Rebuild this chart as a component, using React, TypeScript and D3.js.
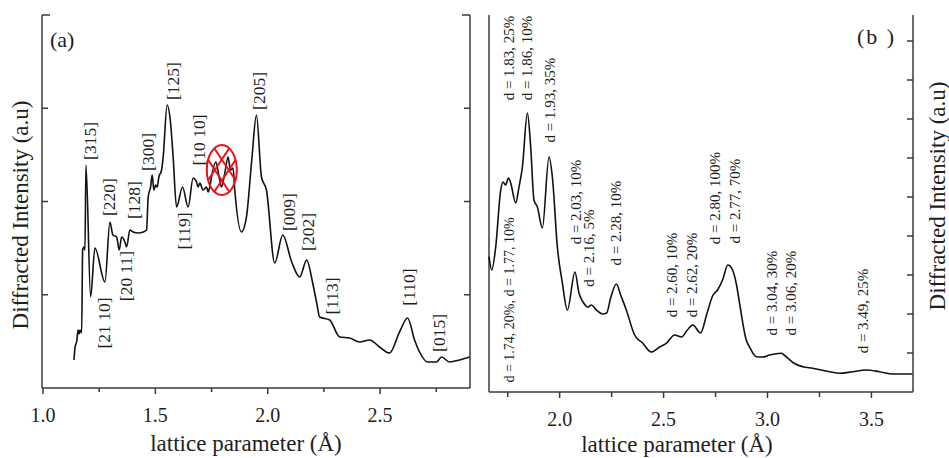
import React from "react";
import * as d3 from "d3";

const W = 949;
const H = 458;

// Panel (a) spectrum: lattice parameter (Å) vs intensity (a.u.)
const aD = [1.1378, 1.1422, 1.1511, 1.1556, 1.16, 1.1644, 1.172, 1.1764, 1.1822, 1.1867, 1.1911, 1.212, 1.2311, 1.2756, 1.2978, 1.3111, 1.3276, 1.3391, 1.3498, 1.3644, 1.372, 1.3867, 1.4013, 1.4236, 1.4458, 1.4609, 1.468, 1.4787, 1.4858, 1.4933, 1.5009, 1.508, 1.5156, 1.5276, 1.5347, 1.5524, 1.5676, 1.5791, 1.5942, 1.6209, 1.6458, 1.668, 1.6831, 1.6902, 1.6978, 1.7124, 1.7276, 1.7347, 1.7422, 1.7498, 1.7689, 1.7836, 1.7942, 1.8089, 1.8236, 1.8342, 1.8458, 1.8533, 1.8831, 1.9053, 1.9289, 1.9498, 1.972, 1.9942, 2.0311, 2.0667, 2.1067, 2.1422, 2.1733, 2.2, 2.2178, 2.2311, 2.2756, 2.32, 2.3644, 2.4089, 2.4533, 2.4978, 2.5422, 2.5867, 2.6222, 2.6533, 2.6756, 2.7111, 2.7511, 2.7733, 2.8089, 2.8533, 2.8978];
const aI = [0.3, 0.429, 0.515, 0.622, 0.579, 0.622, 0.59, 1.48, 1.512, 1.48, 2.391, 0.976, 1.501, 1.137, 1.78, 1.641, 1.619, 1.48, 1.619, 1.566, 1.512, 1.694, 1.673, 1.662, 1.673, 1.694, 2.048, 2.155, 2.284, 2.123, 2.177, 2.155, 2.263, 2.338, 2.477, 3.035, 2.842, 2.477, 1.941, 2.155, 1.941, 2.252, 2.209, 2.155, 2.198, 2.123, 2.155, 2.102, 2.155, 2.263, 2.424, 2.263, 2.155, 2.305, 2.477, 2.338, 2.359, 2.123, 1.673, 1.834, 2.445, 2.928, 2.263, 2.123, 1.34, 1.641, 1.351, 1.19, 1.373, 1.126, 0.912, 0.761, 0.729, 0.547, 0.536, 0.493, 0.515, 0.44, 0.375, 0.601, 0.751, 0.515, 0.386, 0.279, 0.279, 0.332, 0.279, 0.3, 0.332];

// Panel (b) spectrum
const bD = [1.6601, 1.6731, 1.6923, 1.7163, 1.7274, 1.7404, 1.7534, 1.7644, 1.7885, 1.8043, 1.8207, 1.8447, 1.8606, 1.8764, 1.8928, 1.9168, 1.9486, 1.9649, 1.9889, 2.013, 2.037, 2.0736, 2.0928, 2.1154, 2.1346, 2.1524, 2.1764, 2.2067, 2.226, 2.2452, 2.2726, 2.2933, 2.3207, 2.3606, 2.399, 2.4409, 2.4808, 2.5144, 2.5529, 2.5865, 2.6106, 2.6409, 2.6779, 2.7067, 2.7356, 2.7596, 2.7837, 2.8091, 2.8317, 2.851, 2.8654, 2.8976, 2.9135, 2.9457, 2.976, 3.0096, 3.0659, 3.0913, 3.1298, 3.1697, 3.2178, 3.2981, 3.3462, 3.4101, 3.4745, 3.5385, 3.6024, 3.6971];
const bI = [3.469, 3.128, 3.718, 5.179, 5.385, 5.308, 5.487, 5.359, 4.846, 5.256, 5.769, 7.154, 6.282, 4.923, 4.744, 4.205, 6.026, 5.513, 3.718, 2.795, 2.103, 3.077, 2.538, 2.282, 2.179, 2.231, 2.103, 2.0, 2.026, 2.41, 2.769, 2.487, 2.103, 1.462, 1.256, 1.026, 1.154, 1.256, 1.462, 1.41, 1.564, 1.718, 1.513, 1.974, 2.462, 2.615, 2.872, 3.256, 3.128, 2.744, 2.282, 1.333, 1.154, 0.905, 0.897, 0.949, 0.992, 0.897, 0.731, 0.649, 0.608, 0.521, 0.479, 0.521, 0.564, 0.521, 0.462, 0.462];

// Ticks
const aXTicks = [1.0, 1.5, 2.0, 2.5];
const aXMinor = [1.25, 1.75, 2.25, 2.75];
const aYTicks = [1, 2, 3];
const bXTicks = [2.0, 2.5, 3.0, 3.5];
const bXMinor = [1.75, 2.25, 2.75, 3.25];
const bYTicks = [1, 2, 3, 4, 5, 6, 7, 8, 9];

// Peak annotations panel (a)
const aLabels = ["[315]", "[220]", "[128]", "[300]", "[125]", "[10 10]", "[205]", "[119]", "[21 10]", "[20 11]", "[009]", "[202]", "[113]", "[110]", "[015]"];
const aLabelD = [1.2356, 1.32, 1.4311, 1.4933, 1.6044, 1.72, 1.9867, 1.6533, 1.2978, 1.3956, 2.12, 2.2044, 2.3111, 2.6533, 2.7867];
const aLabelI = [2.649, 2.048, 2.016, 2.531, 3.292, 2.66, 3.185, 1.684, 0.697, 1.201, 1.887, 1.673, 0.987, 1.083, 0.59];

// Peak annotations panel (b)
const bLabels = ["d = 1.74, 20%, d = 1.77, 10%", "d = 1.83, 25%", "d = 1.86, 10%", "d = 1.93, 35%", "d = 2.03, 10%", "d = 2.16, 5%", "d = 2.28, 10%", "d = 2.60, 10%", "d = 2.62, 20%", "d = 2.80, 100%", "d = 2.77, 70%", "d = 3.04, 30%", "d = 3.06, 20%", "d = 3.49, 25%"];
const bLabelD = [1.7788, 1.7788, 1.8654, 1.976, 2.101, 2.1635, 2.2933, 2.5625, 2.6587, 2.7692, 2.8654, 3.0433, 3.1394, 3.4856];
const bLabelI = [2.359, 8.564, 8.564, 7.487, 4.872, 3.692, 4.333, 3.0, 3.0, 4.974, 4.897, 2.538, 2.538, 2.077];

const FONT = "'Liberation Serif', 'Times New Roman', Times, serif";
const AX = "#3a3a3a";
const TXT = "#1e1e1e";

export default function App() {
  const xa = d3.scaleLinear().domain([1.0, 2.9]).range([43, 470]);
  const ya = d3.scaleLinear().domain([0, 4]).range([388, 15]);
  const xb = d3.scaleLinear().domain([1.66, 3.7]).range([489, 913]);
  const yb = d3.scaleLinear().domain([0, 9.667]).range([392, 15]);

  const lineA = d3
    .line<number>()
    .x((d, i) => xa(aD[i]))
    .y((d) => ya(d))
    .curve(d3.curveMonotoneX);
  const lineB = d3
    .line<number>()
    .x((d, i) => xb(bD[i]))
    .y((d) => yb(d))
    .curve(d3.curveMonotoneX);

  const aL = 42, aR = 470, aT = 15, aB = 388;
  const bL = 489, bR = 913, bT = 15, bB = 392;

  // red marker
  const ecx = xa(1.7956), ecy = ya(2.338), erx = 15, ery = 25;
  const hatch: [number, number, number, number][] = [];
  [-7, 7].forEach((o) => {
    hatch.push([ecx - 30 + o, ecy + 45, ecx + 30 + o, ecy - 45]);
    hatch.push([ecx - 30 + o, ecy - 45, ecx + 30 + o, ecy + 45]);
  });

  return (
    <svg width={W} height={H} style={{ position: "absolute", left: 0, top: 0, background: "#fff" }} fontFamily={FONT}>
      <rect x={0} y={0} width={W} height={H} fill="#fff" />
      <defs>
        <clipPath id="ellclip">
          <ellipse cx={ecx} cy={ecy} rx={erx} ry={ery} />
        </clipPath>
      </defs>

      {/* ---------- Panel (a) ---------- */}
      <g stroke={AX} strokeWidth={1.5} fill="none">
        <line x1={aL} y1={aT} x2={aL} y2={aB} />
        <line x1={aL} y1={aT} x2={aL + 8} y2={aT} />
        <line x1={aR} y1={aT} x2={aR} y2={aB} />
        <line x1={aR - 8} y1={aT} x2={aR} y2={aT} />
        <line x1={aL} y1={aB} x2={aR} y2={aB} />
        {aYTicks.map((t) => (
          <g key={"ay" + t}>
            <line x1={aL} y1={ya(t)} x2={aL + 6} y2={ya(t)} />
            <line x1={aR - 6} y1={ya(t)} x2={aR} y2={ya(t)} />
          </g>
        ))}
        {aXTicks.map((t) => (
          <line key={"ax" + t} x1={xa(t)} y1={aB} x2={xa(t)} y2={aB + 6} />
        ))}
        {aXMinor.map((t) => (
          <line key={"axm" + t} x1={xa(t)} y1={aB} x2={xa(t)} y2={aB + 4} />
        ))}
      </g>
      {aXTicks.map((t) => (
        <text key={"axl" + t} x={xa(t)} y={422} fontSize={20} textAnchor="middle" fill={TXT}>
          {t.toFixed(1)}
        </text>
      ))}
      <text x={246} y={451} fontSize={23} textAnchor="middle" fill={TXT}>
        lattice parameter (Å)
      </text>
      <text transform={`translate(28,215) rotate(-90)`} fontSize={23} textAnchor="middle" fill={TXT}>
        Diffracted Intensity (a.u)
      </text>
      <text x={50} y={47} fontSize={22} fill={TXT}>
        (a)
      </text>

      <path d={lineA(aI) || ""} fill="none" stroke="#111" strokeWidth={1.6} strokeLinejoin="round" />

      {aLabels.map((s, i) => (
        <text
          key={"al" + i}
          transform={`translate(${xa(aLabelD[i])},${ya(aLabelI[i])}) rotate(-90)`}
          fontSize={17.5}
          textAnchor="middle"
          fill={TXT}
        >
          {s}
        </text>
      ))}

      {/* red crossed ellipse */}
      <g stroke="#e8141c" strokeWidth={2} fill="none">
        <g clipPath="url(#ellclip)">
          {hatch.map((h, i) => (
            <line key={"h" + i} x1={h[0]} y1={h[1]} x2={h[2]} y2={h[3]} />
          ))}
        </g>
        <ellipse cx={ecx} cy={ecy} rx={erx} ry={ery} />
      </g>

      {/* ---------- Panel (b) ---------- */}
      <g stroke={AX} strokeWidth={1.5} fill="none">
        <line x1={bL} y1={bT} x2={bL} y2={bB} />
        <line x1={bR} y1={bT} x2={bR} y2={bB} />
        <line x1={bL} y1={bB} x2={bR} y2={bB} />
        {bYTicks.map((t) => (
          <line key={"by" + t} x1={bR - 6} y1={yb(t)} x2={bR} y2={yb(t)} />
        ))}
        {bXTicks.map((t) => (
          <line key={"bx" + t} x1={xb(t)} y1={bB} x2={xb(t)} y2={bB + 6} />
        ))}
        {bXMinor.map((t) => (
          <line key={"bxm" + t} x1={xb(t)} y1={bB} x2={xb(t)} y2={bB + 5} />
        ))}
      </g>
      {bXTicks.map((t) => (
        <text key={"bxl" + t} x={xb(t)} y={426} fontSize={20} textAnchor="middle" fill={TXT}>
          {t.toFixed(1)}
        </text>
      ))}
      <text x={677} y={452} fontSize={23} textAnchor="middle" fill={TXT}>
        lattice parameter (Å)
      </text>
      <text transform={`translate(945,196) rotate(-90)`} fontSize={23} textAnchor="middle" fill={TXT}>
        Diffracted Intensity (a.u)
      </text>
      <text x={857} y={44} fontSize={22} fill={TXT} letterSpacing={2}>
        (b )
      </text>

      <path d={lineB(bI) || ""} fill="none" stroke="#111" strokeWidth={1.6} strokeLinejoin="round" />

      {bLabels.map((s, i) => (
        <text
          key={"bl" + i}
          transform={`translate(${xb(bLabelD[i])},${yb(bLabelI[i])}) rotate(-90)`}
          fontSize={i === 0 ? 14 : 15}
          textAnchor="middle"
          fill={TXT}
        >
          {s}
        </text>
      ))}
    </svg>
  );
}
